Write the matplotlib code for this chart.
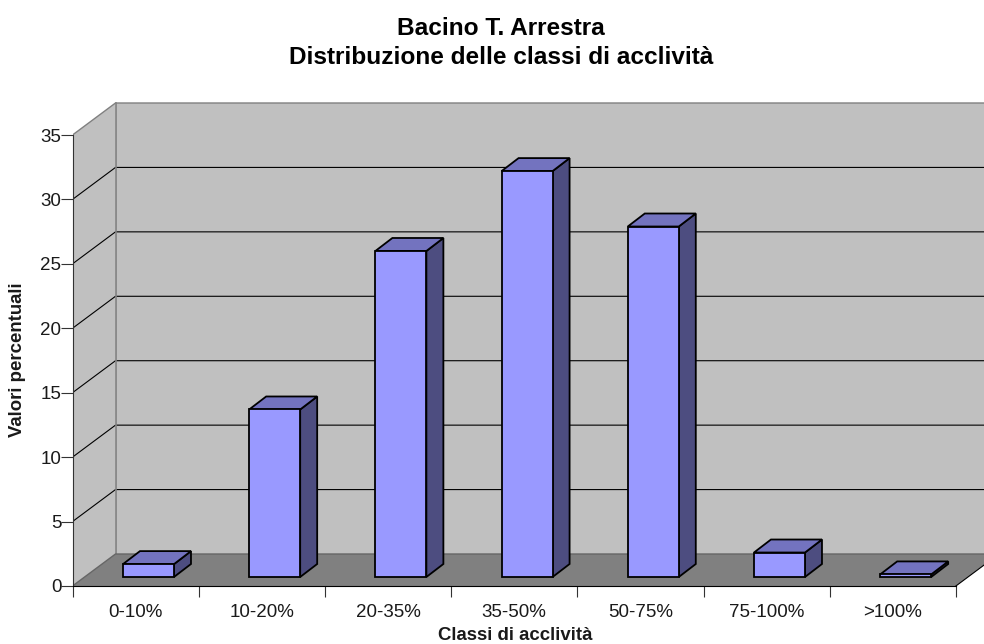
import matplotlib
matplotlib.use("Agg")
import matplotlib.pyplot as plt

plt.rcParams['font.family'] = ['Liberation Sans', 'DejaVu Sans']

categories = ['0-10%', '10-20%', '20-35%', '35-50%', '50-75%', '75-100%', '>100%']
values = [1.0, 13.0, 25.3, 31.5, 27.2, 1.9, 0.2]
yticks = [0, 5, 10, 15, 20, 25, 30, 35]

W, H = 984, 644
left, base = 72.5, 586.0
xscale = 126.2
yscale = 451 / 35

# oblique offset of the back wall, in data units
wall_dx = 43 / xscale
wall_dy = 32 / yscale
# bar placement inside a category
bar_x = 0.40
bar_w = 51 / xscale
bar_y = 9 / yscale
bar_dx = 17 / xscale
bar_dy = 13 / yscale

fig = plt.figure(figsize=(W / 100, H / 100), dpi=100)
top = 90
ax = fig.add_axes([left / W, (H - base) / H, (W - left) / W, (base - top) / H])
ax.set_xlim(0, (W - left) / xscale)
ax.set_ylim(0, (base - top) / yscale)
ax.patch.set_visible(False)

n = len(categories)
ymax = yticks[-1]

# walls and floor
ax.fill([0, wall_dx, wall_dx, 0], [0, wall_dy, ymax + wall_dy, ymax], fc='#C0C0C0', ec='none', zorder=1)
ax.fill([wall_dx, n + wall_dx, n + wall_dx, wall_dx], [wall_dy, wall_dy, ymax + wall_dy, ymax + wall_dy],
        fc='#C0C0C0', ec='none', zorder=1)
ax.fill([0, n, n + wall_dx, wall_dx], [0, 0, wall_dy, wall_dy], fc='#808080', ec='none', zorder=1)

for v in yticks[1:-1]:
    ax.plot([0, wall_dx, n + wall_dx], [v, v + wall_dy, v + wall_dy], color='black', lw=0.8, zorder=2)

edge = '#808080'
ax.plot([0, wall_dx, n + wall_dx], [ymax, ymax + wall_dy, ymax + wall_dy], color=edge, lw=1.0, zorder=2)
ax.plot([wall_dx, wall_dx], [wall_dy, ymax + wall_dy], color=edge, lw=1.2, zorder=2)
ax.plot([0, wall_dx, n + wall_dx], [0, wall_dy, wall_dy], color='#666666', lw=1.0, zorder=2)
ax.plot([n, n + wall_dx], [0, wall_dy], color='black', lw=0.8, zorder=2)

# bars: side, top, then front
for i, v in enumerate(values):
    x0 = i + bar_x
    x1 = x0 + bar_w
    y0 = bar_y
    y1 = bar_y + v
    kw = dict(ec='black', lw=1.3, joinstyle='miter', zorder=3)
    ax.fill([x1, x1 + bar_dx, x1 + bar_dx, x1], [y0, y0 + bar_dy, y1 + bar_dy, y1], fc='#4D4D80', **kw)
    ax.fill([x0, x1, x1 + bar_dx, x0 + bar_dx], [y1, y1, y1 + bar_dy, y1 + bar_dy], fc='#7373BF', **kw)
    ax.fill([x0, x1, x1, x0], [y0, y0, y1, y1], fc='#9999FF', **kw)

for s in ['top', 'right']:
    ax.spines[s].set_visible(False)
ax.spines['left'].set_bounds(0, ymax)
ax.spines['bottom'].set_bounds(0, n)
ax.spines['left'].set_color('#333333')
ax.spines['left'].set_zorder(4)
ax.spines['bottom'].set_zorder(4)

ax.set_yticks(yticks)
ax.set_xticks(range(n + 1))
ax.set_xticklabels([])
ax.set_xticks([i + 0.5 for i in range(n)], labels=categories, minor=True)
ax.tick_params(axis='x', which='minor', length=0, labelsize=13.5, labelcolor='#1a1a1a', pad=13)
ax.tick_params(axis='x', which='major', length=8, width=0.8, color='#333333')
ax.tick_params(axis='y', length=9, width=0.8, color='#333333', labelsize=13.5, labelcolor='#1a1a1a', pad=-1)

fig.text(501 / W, 1 - 43 / H, 'Bacino T. Arrestra\nDistribuzione delle classi di acclività',
         ha='center', va='center', fontsize=17.6, fontweight='bold', linespacing=1.37, color='black')
fig.text(515 / W, 1 - 636 / H, 'Classi di acclività', ha='center', va='center', fontsize=13.4, fontweight='bold',
         color='#1a1a1a')
fig.text(18 / W, 1 - 360 / H, 'Valori percentuali', ha='center', va='center', rotation=90,
         fontsize=13.4, fontweight='bold', color='#1a1a1a')

fig.savefig('out.png', dpi=100)
